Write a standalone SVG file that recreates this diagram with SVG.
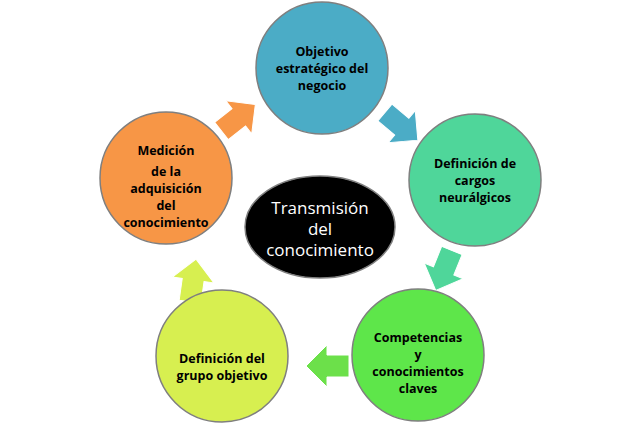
<svg xmlns="http://www.w3.org/2000/svg" width="640" height="437" viewBox="0 0 640 437">
<style>
.n{stroke:#7f7f7f;stroke-width:1.5}
.t{font-family:"Open Sans","Liberation Sans",sans-serif;font-weight:bold;font-size:12.5px;text-anchor:middle;fill:#000}
.c{font-family:"Open Sans","Liberation Sans",sans-serif;font-size:17px;text-anchor:middle;fill:#fff}
.a{stroke:#ffffff;stroke-width:1}
</style>
<defs><path id="arr" d="M-21,-11 L1,-11 L1,-21 L22,0 L1,21 L1,11 L-21,11 Z"/></defs>
<rect width="640" height="437" fill="#fff"/>
<g id="connectors">
<use href="#arr" class="a" fill="#f79646" transform="translate(238,118) rotate(-38)"/>
<use href="#arr" class="a" fill="#4bacc6" transform="translate(401,126) rotate(40)"/>
<use href="#arr" class="a" fill="#4fd69a" transform="translate(444,270) rotate(112)"/>
<use href="#arr" class="a" fill="#6ce04a" transform="translate(328,366) rotate(180)"/>
<use href="#arr" class="a" fill="#d7ef50" transform="translate(193,281) rotate(-82)"/>
</g>
<g id="n1"><circle class="n" cx="322" cy="68" r="66" fill="#4bacc6"/>
<text class="t" x="322" y="56">Objetivo</text><text class="t" x="322" y="73">estratégico del</text><text class="t" x="322" y="90">negocio</text></g>
<g id="n2"><circle class="n" cx="475" cy="180" r="66" fill="#4fd69a"/>
<text class="t" x="475" y="168">Definición de</text><text class="t" x="475" y="185">cargos</text><text class="t" x="475" y="202">neurálgicos</text></g>
<g id="n3"><circle class="n" cx="418" cy="355" r="66" fill="#5ee64a"/>
<text class="t" x="418" y="342">Competencias</text><text class="t" x="418" y="359">y</text><text class="t" x="418" y="376">conocimientos</text><text class="t" x="418" y="393">claves</text></g>
<g id="n4"><circle class="n" cx="222" cy="356" r="66" fill="#d7ef50"/>
<text class="t" x="222" y="363">Definición del</text><text class="t" x="222" y="380">grupo objetivo</text></g>
<g id="n5"><circle class="n" cx="166" cy="178" r="66" fill="#f79646"/>
<text class="t" x="166" y="155">Medición</text><text class="t" x="166" y="176">de la</text><text class="t" x="166" y="193">adquisición</text><text class="t" x="166" y="210">del</text><text class="t" x="166" y="227">conocimiento</text></g>
<g id="center"><ellipse cx="320" cy="227" rx="75" ry="51" fill="#000" stroke="#7f7f7f" stroke-width="1.5"/>
<text class="c" x="320" y="214">Transmisión</text><text class="c" x="320" y="235">del</text><text class="c" x="320" y="256">conocimiento</text></g>
</svg>
